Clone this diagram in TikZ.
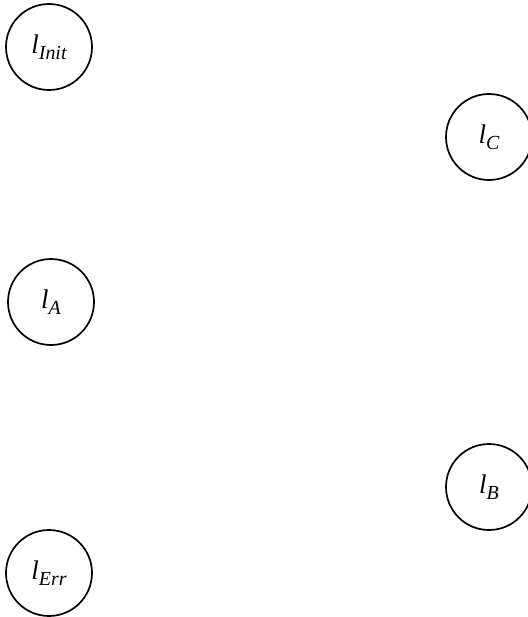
\documentclass[tikz,border=0pt]{standalone}
\usepackage{fontspec}
\setmainfont{Liberation Serif}
\newcommand{\locname}[2]{\fontsize{27}{30}\selectfont\itshape #1\raisebox{-0.24em}{\fontsize{20}{23}\selectfont #2}}
\begin{document}
\begin{tikzpicture}[x=1bp,y=-1bp,
  loc/.style={circle,draw,line width=1.7bp,minimum size=86bp,inner sep=0pt}]
\useasboundingbox (0,0) rectangle (528,617);
\node[loc] (init) at (49,47) {\locname{l}{Init}};
\node[loc] (c) at (489,137) {\locname{l}{C}};
\node[loc] (a) at (51,302) {\locname{l}{A}};
\node[loc] (b) at (489,487) {\locname{l}{B}};
\node[loc] (err) at (49,573) {\locname{l}{Err}};
\end{tikzpicture}
\end{document}
